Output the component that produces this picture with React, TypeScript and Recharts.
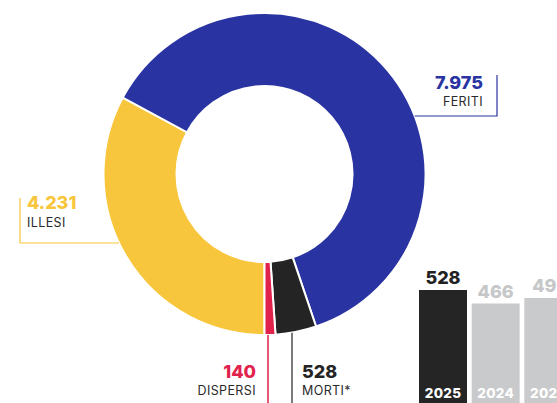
import { Bar, BarChart, Cell, LabelList, Pie, PieChart, XAxis, YAxis } from 'recharts';

// donut: order matters, drawn clockwise starting from the bottom
const categories = ['ILLESI', 'FERITI', 'MORTI*', 'DISPERSI'];
const values = [4231, 7975, 528, 140];
const sliceColors = ['#f8c63c', '#2a33a2', '#242424', '#e1224c'];

// morti per anno (bar inset)
const years = ['2025', '2024', '2023'];
const deaths = [528, 466, 491];
const barColors = ['#252525', '#c9cacc', '#c9cacc'];
const barLabelColors = ['#222222', '#c6c7c9', '#c6c7c9'];

const W = 557;
const H = 403;
const CX = 264.5;
const CY = 174;
const R_OUT = 161;
const R_IN = 88;

const FONT = 'Inter, "Open Sans", sans-serif';

const fmt = (v: number) => v.toLocaleString('de-DE');

const pieData = categories.map((name, i) => ({ name, value: values[i] }));
const barData = years.map((year, i) => ({ year, value: deaths[i] }));

/** x on the outer ring edge for a given y (left or right side). */
function ringX(y: number, side: -1 | 1): number {
    const dy = y - CY;
    return CX + side * Math.sqrt(R_OUT * R_OUT - dy * dy);
}

/** y on the outer ring edge (bottom) for a given x. */
function ringY(x: number): number {
    const dx = x - CX;
    return CY + Math.sqrt(R_OUT * R_OUT - dx * dx);
}

function Annotations() {
    const feritiY = 116;
    const illesiY = 243;
    const labelProps = { fontFamily: FONT, fontSize: 12.5, fill: '#2a2a2a', letterSpacing: 0.4 };
    return (
        <svg width={W} height={H} style={{ position: 'absolute', left: 0, top: 0, pointerEvents: 'none' }}>
            {/* FERITI */}
            <polyline
                points={`${ringX(feritiY, 1)},${feritiY} 497,${feritiY} 497,75`}
                fill="none"
                stroke={sliceColors[1]}
                strokeWidth={1.2}
            />
            <text x={483} y={89} textAnchor="end" fontFamily={FONT} fontWeight={800} fontSize={18} fill={sliceColors[1]}>
                {fmt(values[1])}
            </text>
            <text x={483} y={106} textAnchor="end" {...labelProps}>
                {categories[1]}
            </text>

            {/* ILLESI */}
            <polyline
                points={`20,198 20,${illesiY} ${ringX(illesiY, -1)},${illesiY}`}
                fill="none"
                stroke={sliceColors[0]}
                strokeWidth={1.2}
            />
            <text x={27} y={209} fontFamily={FONT} fontWeight={800} fontSize={18} fill={sliceColors[0]}>
                {fmt(values[0])}
            </text>
            <text x={27} y={227} {...labelProps}>
                {categories[0]}
            </text>

            {/* DISPERSI */}
            <line x1={268} y1={ringY(268)} x2={268} y2={H} stroke={sliceColors[3]} strokeWidth={1.5} />
            <text x={256} y={378} textAnchor="end" fontFamily={FONT} fontWeight={800} fontSize={18} fill={sliceColors[3]}>
                {fmt(values[3])}
            </text>
            <text x={256} y={395} textAnchor="end" {...labelProps}>
                {categories[3]}
            </text>

            {/* MORTI */}
            <line x1={292} y1={ringY(292)} x2={292} y2={H} stroke={sliceColors[2]} strokeWidth={1.2} />
            <text x={302} y={378} fontFamily={FONT} fontWeight={800} fontSize={18} fill={sliceColors[2]}>
                {fmt(values[2])}
            </text>
            <text x={302} y={395} {...labelProps}>
                {categories[2]}
            </text>
        </svg>
    );
}

function TopValue(props: any) {
    const { x, y, width, value, index } = props;
    return (
        <text
            x={x + width / 2}
            y={y - 6}
            textAnchor="middle"
            fontFamily={FONT}
            fontWeight={800}
            fontSize={18}
            fill={barLabelColors[index]}
        >
            {value}
        </text>
    );
}

function YearLabel(props: any) {
    const { x, y, width, height, value } = props;
    return (
        <text
            x={x + width / 2}
            y={y + height - 7}
            textAnchor="middle"
            fontFamily={FONT}
            fontWeight={800}
            fontSize={13.5}
            letterSpacing={0.3}
            fill="#ffffff"
        >
            {value}
        </text>
    );
}

export default function App() {
    return (
        <div
            style={{
                position: 'absolute',
                left: 0,
                top: 0,
                width: W,
                height: H,
                overflow: 'hidden',
                background: '#ffffff',
            }}
        >
            <div style={{ position: 'absolute', left: 0, top: 0 }}>
                <PieChart width={W} height={H} margin={{ top: 0, right: 0, bottom: 0, left: 0 }}>
                    <Pie
                        data={pieData}
                        dataKey="value"
                        nameKey="name"
                        cx={CX}
                        cy={CY}
                        innerRadius={R_IN}
                        outerRadius={R_OUT}
                        startAngle={270}
                        endAngle={-90}
                        stroke="#ffffff"
                        strokeWidth={2}
                        isAnimationActive={false}
                    >
                        {pieData.map((d, i) => (
                            <Cell key={d.name} fill={sliceColors[i]} />
                        ))}
                    </Pie>
                </PieChart>
            </div>

            <Annotations />

            <div style={{ position: 'absolute', left: 417, top: 260 }}>
                <BarChart
                    width={158}
                    height={145}
                    data={barData}
                    margin={{ top: 0, right: 0, bottom: 0, left: 0 }}
                    barCategoryGap={4}
                >
                    <XAxis dataKey="year" hide />
                    <YAxis hide domain={[0, 666]} />
                    <Bar dataKey="value" barSize={48} isAnimationActive={false}>
                        {barData.map((d, i) => (
                            <Cell key={d.year} fill={barColors[i]} />
                        ))}
                        <LabelList dataKey="value" content={TopValue} />
                        <LabelList dataKey="year" content={YearLabel} />
                    </Bar>
                </BarChart>
            </div>
        </div>
    );
}
